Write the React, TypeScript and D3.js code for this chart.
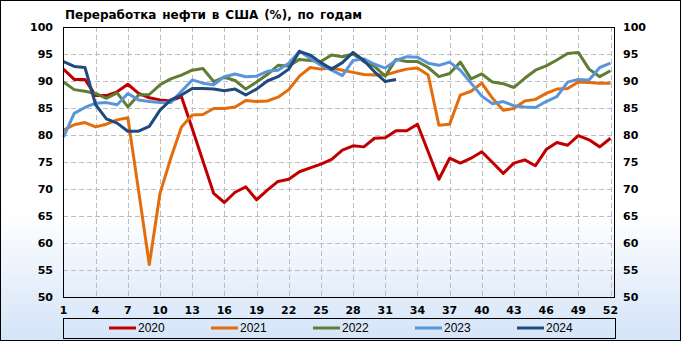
import React from "react";
import * as d3 from "d3";

const years = ["2020", "2021", "2022", "2023", "2024"];
const colors = ["#c00000", "#e46c0a", "#617d34", "#5a95da", "#1f4a7d"];

const y2020 = [92.2, 90.3, 90.3, 87.3, 87.3, 88.0, 89.4, 87.7, 86.9, 86.5, 86.3, 87.1, 81.2, 75.2, 69.2, 67.5, 69.4, 70.4, 68.0, 69.8, 71.4, 71.8, 73.2, 73.9, 74.6, 75.5, 77.2, 78.0, 77.8, 79.4, 79.5, 80.8, 80.8, 82.0, 76.9, 71.8, 75.7, 74.8, 75.7, 76.9, 74.9, 72.9, 74.8, 75.4, 74.3, 77.3, 78.6, 78.1, 79.9, 79.1, 77.8, 79.4];
const y2021 = [80.9, 81.9, 82.3, 81.5, 82.0, 82.8, 83.2, 69.7, 56.0, 69.2, 75.7, 81.5, 83.7, 83.8, 84.9, 84.9, 85.2, 86.4, 86.2, 86.3, 87.0, 88.4, 90.9, 92.5, 92.2, 92.4, 92.0, 91.6, 91.2, 91.1, 91.1, 91.7, 92.2, 92.4, 91.1, 81.8, 82.0, 87.4, 88.1, 89.6, 86.8, 84.6, 84.9, 86.3, 86.6, 87.7, 88.5, 88.6, 89.8, 89.7, 89.6, 89.6];
const y2022 = [89.8, 88.4, 88.1, 87.7, 86.8, 87.8, 85.2, 87.4, 87.5, 89.3, 90.4, 91.1, 92.0, 92.3, 89.9, 90.7, 90.1, 88.5, 89.8, 91.2, 92.9, 92.8, 94.0, 93.8, 93.6, 94.8, 94.5, 95.0, 93.6, 92.7, 90.9, 94.0, 93.6, 93.6, 92.5, 90.8, 91.4, 93.5, 90.4, 91.3, 89.8, 89.5, 88.8, 90.5, 92.0, 92.8, 93.9, 95.1, 95.3, 92.2, 90.8, 91.9];
const y2023 = [79.6, 84.0, 85.1, 85.9, 86.0, 85.6, 87.7, 86.5, 86.2, 86.0, 86.0, 88.1, 90.2, 89.6, 89.3, 90.8, 91.3, 90.8, 90.9, 91.8, 92.0, 93.3, 95.5, 94.2, 92.9, 92.0, 91.0, 93.8, 94.1, 93.1, 92.4, 93.8, 94.5, 94.4, 93.3, 92.9, 93.5, 92.0, 89.6, 87.2, 85.8, 86.2, 85.4, 85.2, 85.1, 86.2, 87.1, 89.8, 90.3, 90.2, 92.5, 93.3];
const y2024 = [93.6, 92.7, 92.5, 85.6, 83.0, 82.2, 80.7, 80.7, 81.6, 84.6, 86.5, 87.4, 88.6, 88.6, 88.5, 88.2, 88.5, 87.4, 88.5, 90.0, 90.8, 92.2, 95.5, 94.8, 93.4, 92.2, 93.4, 95.3, 93.8, 91.7, 89.9, 90.3];

const seriesValues = [y2020, y2021, y2022, y2023, y2024];
const yTicks = [50, 55, 60, 65, 70, 75, 80, 85, 90, 95, 100];
const xTicks = [1, 4, 7, 10, 13, 16, 19, 22, 25, 28, 31, 34, 37, 40, 43, 46, 49, 52];

const title = "Переработка нефти в США (%), по годам";

export default function App() {
  const W = 681;
  const H = 341;
  const left = 63;
  const right = 614;
  const top = 27;
  const bottom = 297;

  const x = d3.scaleLinear().domain([1, 52]).range([left + 0.5, 610.5]);
  const y = d3.scaleLinear().domain([50, 100]).range([bottom, top]);

  const line = d3
    .line<number>()
    .x((_, i) => x(i + 1))
    .y((d) => y(d));

  const legendX = d3.scaleLinear().domain([0, 4]).range([109, 517]);

  const tickFont = "'DejaVu Sans', Verdana, sans-serif";

  return (
    <svg
      width={W}
      height={H}
      style={{ position: "absolute", left: 0, top: 0 }}
    >
      <defs>
        <linearGradient id="bg" x1="0" y1="0" x2="0" y2="1">
          <stop offset="0" stopColor="#ffffff" />
          <stop offset="0.62" stopColor="#ffffff" />
          <stop offset="1" stopColor="#d4e4f8" />
        </linearGradient>
      </defs>
      <rect x={0.5} y={0.5} width={W - 1} height={H - 1} fill="url(#bg)" stroke="#000" />

      <text
        x={65}
        y={19}
        fontFamily={tickFont}
        fontWeight="bold"
        fontSize={12}
        wordSpacing={1.7}
        fill="#000"
      >
        {title}
      </text>

      {/* grid */}
      {yTicks.slice(1, -1).map((t) => (
        <line
          key={"h" + t}
          x1={left}
          x2={right}
          y1={Math.round(y(t)) + 0.5}
          y2={Math.round(y(t)) + 0.5}
          stroke="#bdbdbd"
          strokeDasharray="5,3"
        />
      ))}
      {xTicks.slice(1).map((t) => (
        <line
          key={"v" + t}
          x1={Math.round(x(t)) + 0.5}
          x2={Math.round(x(t)) + 0.5}
          y1={top}
          y2={bottom}
          stroke="#bdbdbd"
          strokeDasharray="5,3"
        />
      ))}

      {/* series */}
      {seriesValues.map((vals, i) => (
        <path
          key={years[i]}
          d={line(vals) || ""}
          fill="none"
          stroke={colors[i]}
          strokeWidth={3}
          strokeLinejoin="round"
        />
      ))}

      {/* plot frame */}
      <rect
        x={left + 0.5}
        y={top + 0.5}
        width={right - left}
        height={bottom - top}
        fill="none"
        stroke="#000"
      />

      {/* left axis labels */}
      {yTicks.map((t) => (
        <text
          key={"l" + t}
          x={53}
          y={y(t)}
          dy="0.36em"
          textAnchor="end"
          fontFamily={tickFont}
          fontWeight="bold"
          fontSize={11}
        >
          {t}
        </text>
      ))}
      {/* right axis labels */}
      {yTicks.map((t) => (
        <text
          key={"r" + t}
          x={623}
          y={y(t)}
          dy="0.36em"
          textAnchor="start"
          fontFamily={tickFont}
          fontWeight="bold"
          fontSize={11}
        >
          {t}
        </text>
      ))}
      {/* x labels */}
      {xTicks.map((t) => (
        <text
          key={"x" + t}
          x={x(t)}
          y={314}
          textAnchor="middle"
          fontFamily={tickFont}
          fontWeight="bold"
          fontSize={11}
        >
          {t}
        </text>
      ))}

      {/* legend */}
      <rect x={63.5} y={318.5} width={552} height={20} fill="none" stroke="#000" />
      {years.map((yr, i) => (
        <g key={"lg" + yr} transform={`translate(${legendX(i)},328)`}>
          <line x1={0} x2={27} y1={0} y2={0} stroke={colors[i]} strokeWidth={3} />
          <text
            x={29}
            y={0}
            dy="0.35em"
            fontFamily="'Liberation Sans', Arial, sans-serif"
            fontSize={12}
          >
            {yr}
          </text>
        </g>
      ))}
    </svg>
  );
}
